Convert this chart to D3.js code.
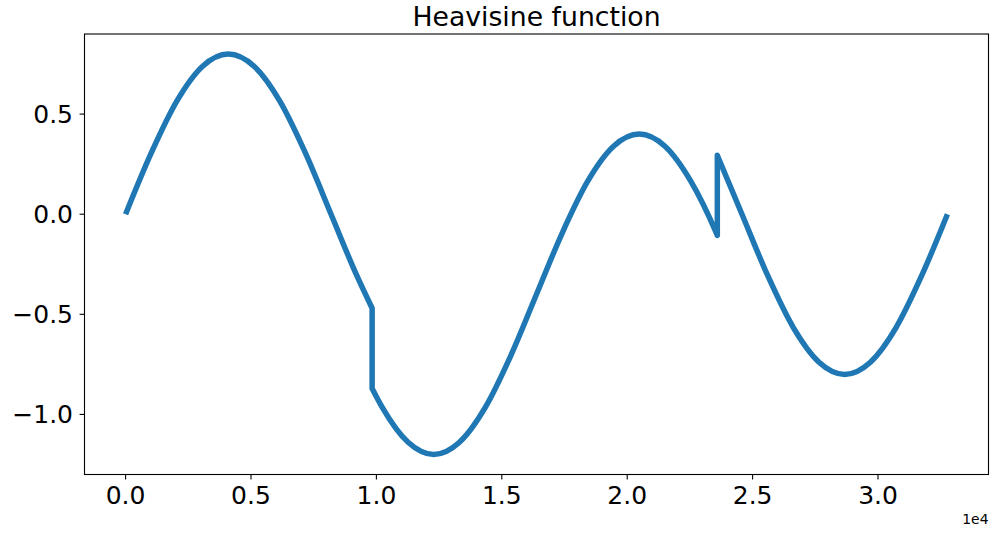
<!DOCTYPE html>
<html>
<head>
<meta charset="utf-8">
<script src="https://cdn.jsdelivr.net/npm/d3@7"></script>
<style>
  body { margin: 0; background: #fff; }
  svg { display: block; font-family: "DejaVu Sans", sans-serif; }
</style>
</head>
<body>
<svg width="992" height="533"></svg>
<script>
// data, one array per piece between the jumps
var seg1X = [0, 1024, 2048, 3072, 4096, 5120, 6144, 7168, 8192, 9216, 9830];
var seg1Y = [0, 0.306, 0.566, 0.739, 0.8, 0.739, 0.566, 0.306, 0, -0.306, -0.470];

var seg2X = [9830, 10240, 11264, 12288, 13312, 14336, 15360, 16384, 17408, 18432, 19456, 20480, 21504, 22528, 23552, 23593];
var seg2Y = [-0.870, -0.966, -1.139, -1.2, -1.139, -0.966, -0.706, -0.4, -0.094, 0.166, 0.339, 0.4, 0.339, 0.166, -0.094, -0.106];

var seg3X = [23593, 24576, 25600, 26624, 27648, 28672, 29696, 30720, 31744, 32767];
var seg3Y = [0.294, 0, -0.306, -0.566, -0.739, -0.8, -0.739, -0.566, -0.306, 0];

var xTicks = [0, 5000, 10000, 15000, 20000, 25000, 30000];
var yTicks = [-1.0, -0.5, 0.0, 0.5];
var title = "Heavisine function";

var svg = d3.select("svg");
// plot box (window.top is taken, so use other names)
var axLeft = 84.5, axRight = 988.5, axTop = 34, axBottom = 474.5;

// matplotlib style 5% margins
var x = d3.scaleLinear().domain([-1638.35, 34405.35]).range([axLeft, axRight]);
var y = d3.scaleLinear().domain([-1.3, 0.9]).range([axBottom, axTop]);

var line = d3.line()
    .x(function(d) { return x(d[0]); })
    .y(function(d) { return y(d[1]); })
    .curve(d3.curveMonotoneX);

// join the pieces so the jumps become straight vertical strokes
var segs = [[seg1X, seg1Y], [seg2X, seg2Y], [seg3X, seg3Y]];
var path = segs.map(function(s, i) {
    var d = line(d3.zip(s[0], s[1]));
    return i == 0 ? d : d.replace(/^M/, "L");
}).join("");

svg.append("path")
    .attr("d", path)
    .attr("fill", "none")
    .attr("stroke", "#1f77b4")
    .attr("stroke-width", 5.5)
    .attr("stroke-linejoin", "round")
    .attr("stroke-linecap", "butt");

// frame
svg.append("rect")
    .attr("x", axLeft).attr("y", axTop)
    .attr("width", axRight - axLeft).attr("height", axBottom - axTop)
    .attr("fill", "none")
    .attr("stroke", "#000")
    .attr("stroke-width", 1.1);

// x ticks
var xt = svg.append("g").selectAll("g").data(xTicks).enter().append("g")
    .attr("transform", d => "translate(" + x(d) + "," + axBottom + ")");
xt.append("line").attr("y2", 4.9).attr("stroke", "#000").attr("stroke-width", 1.1);
xt.append("text")
    .attr("y", 29.5)
    .attr("text-anchor", "middle")
    .attr("font-size", 25)
    .text(d => (d / 1e4).toFixed(1));

// y ticks
var yt = svg.append("g").selectAll("g").data(yTicks).enter().append("g")
    .attr("transform", d => "translate(" + axLeft + "," + y(d) + ")");
yt.append("line").attr("x2", -4.9).attr("stroke", "#000").attr("stroke-width", 1.1);
yt.append("text")
    .attr("x", -11.5)
    .attr("dy", "0.36em")
    .attr("text-anchor", "end")
    .attr("font-size", 25)
    .text(d => d.toFixed(1).replace("-", "\u2212"));

// offset text
svg.append("text")
    .attr("x", axRight)
    .attr("y", 524)
    .attr("text-anchor", "end")
    .attr("font-size", 13.9)
    .text("1e4");

svg.append("text")
    .attr("x", (axLeft + axRight) / 2)
    .attr("y", 25.5)
    .attr("text-anchor", "middle")
    .attr("font-size", 26.7)
    .text(title);
</script>
</body>
</html>
